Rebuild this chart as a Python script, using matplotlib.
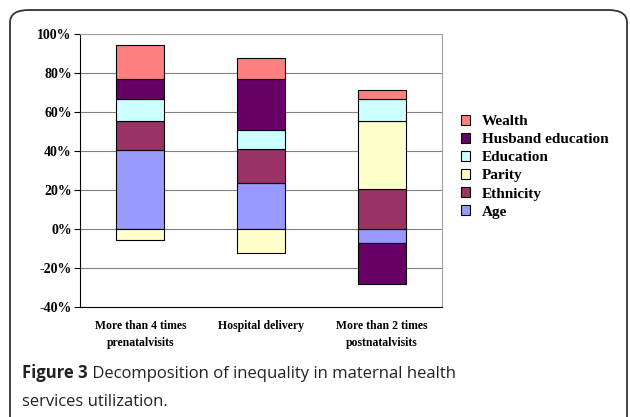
import numpy as np
import matplotlib.pyplot as plt
from matplotlib.patches import FancyBboxPatch, Patch

categories = ["More than 4 times\nprenatalvisits", "Hospital delivery",
              "More than 2 times\npostnatalvisits"]
# stacking order as in the original (Excel series order)
series = ["Age", "Ethnicity", "Parity", "Education", "Husband education", "Wealth"]
age = [40.8, 23.6, -7.0]
ethnicity = [14.6, 17.7, 20.5]
parity = [-5.5, -12.0, 35.0]
education = [11.6, 9.8, 11.2]
husband = [10.1, 26.0, -21.2]
wealth = [17.3, 10.6, 4.7]
colors = ["#9999FF", "#993366", "#FFFFCC", "#CCFFFF", "#660066", "#FF8080"]

data = [age, ethnicity, parity, education, husband, wealth]

fig = plt.figure(figsize=(6.3, 4.17), dpi=100)
ax = fig.add_axes([0.127, 0.2631, 0.5746, 0.6546])

x = np.arange(len(categories))
pos_base = np.zeros(len(categories))
neg_base = np.zeros(len(categories))
for vals, col, name in zip(data, colors, series):
    vals = np.array(vals)
    bottom = np.where(vals >= 0, pos_base, neg_base)
    ax.bar(x, vals, bottom=bottom, width=0.4, color=col, edgecolor="black",
           linewidth=0.8, label=name, zorder=3)
    pos_base = pos_base + np.where(vals >= 0, vals, 0)
    neg_base = neg_base + np.where(vals < 0, vals, 0)

ax.set_xlim(-0.5, 2.5)
ax.set_ylim(-40, 100)
ticks = np.arange(-40, 101, 20)
ax.set_yticks(ticks)
ax.set_yticklabels(["%d%%" % v for v in ticks],
                   fontfamily="Liberation Serif", fontweight="bold", fontsize=10)
ax.set_xticks(x)
ax.set_xticklabels(categories, fontfamily="Liberation Serif", fontweight="bold",
                   fontsize=8.5, linespacing=1.55)
ax.tick_params(axis="x", length=0, pad=9)
ax.tick_params(axis="y", length=4, width=0.8, pad=2)
ax.yaxis.grid(True, color="#808080", linewidth=0.8, zorder=0)
ax.set_axisbelow(True)
for s in ["top", "right"]:
    ax.spines[s].set_color("#A0A0A0")
ax.spines["left"].set_color("black")
ax.spines["bottom"].set_color("black")

handles = [Patch(facecolor=c, edgecolor="black", linewidth=0.8) for c in colors]
fig.legend(handles[::-1], series[::-1],
           loc="center left", bbox_to_anchor=(0.71, 0.6), frameon=False,
           prop={"family": "Liberation Serif", "weight": "bold", "size": 11},
           handlelength=0.6, handleheight=0.6, handletextpad=0.75,
           labelspacing=0.32)

# rounded border round the whole figure
border = FancyBboxPatch((10 / 630, -0.05), 617 / 630, 1 - 10 / 417 + 0.05,
                        boxstyle="round,pad=0,rounding_size=0.03",
                        transform=fig.transFigure, fill=False,
                        edgecolor="#333333", linewidth=1.3)
fig.add_artist(border)

t = fig.text(22 / 630, 1 - 373 / 417, "Figure 3", fontfamily="Open Sans",
             fontweight="bold", fontsize=12, color="#222222", va="center")
ax.annotate(" Decomposition of inequality in maternal health", xy=(1, 0),
            xycoords=t, va="bottom", ha="left", fontfamily="Open Sans",
            fontsize=12, color="#222222", annotation_clip=False)
fig.text(22 / 630, 1 - 402 / 417, "services utilization.", fontfamily="Open Sans",
         fontsize=12, color="#222222", va="center")

fig.savefig("out.png", dpi=100)
